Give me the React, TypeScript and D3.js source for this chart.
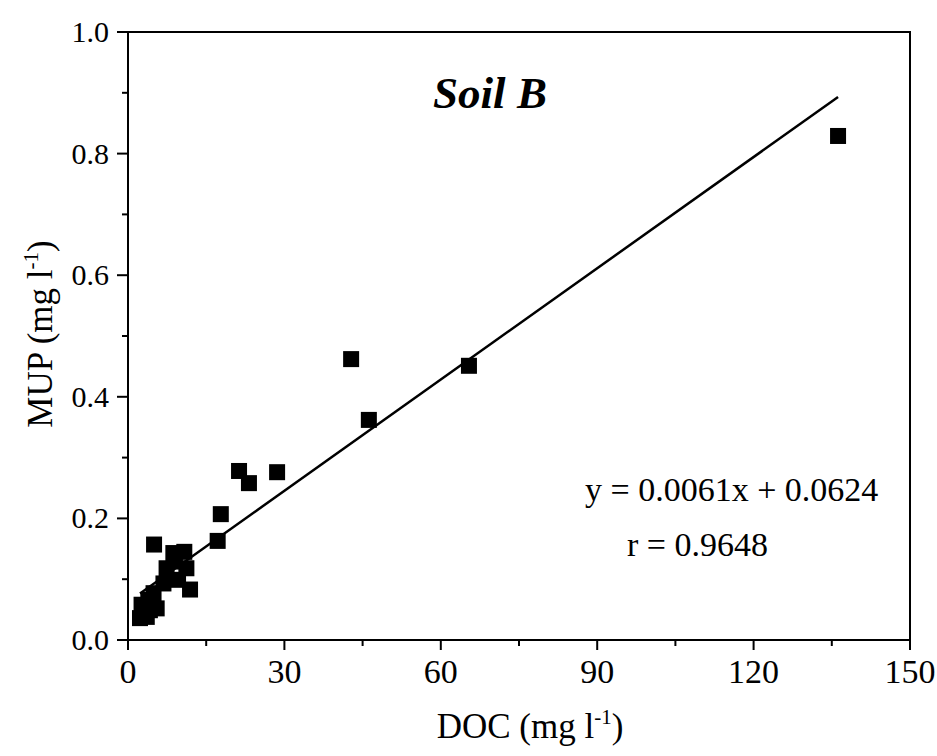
import React from "react";
import * as d3 from "d3";

const docValues = [136.2, 42.8, 46.2, 65.4, 28.6, 23.2, 21.3, 17.8, 17.2, 5.0, 8.7, 10.8, 11.2, 7.4, 11.9, 6.8, 9.6, 4.9, 3.9, 5.5, 2.6, 2.3, 3.6, 4.2, 9.0];
const mupValues = [0.829, 0.462, 0.362, 0.451, 0.276, 0.258, 0.278, 0.207, 0.163, 0.157, 0.143, 0.145, 0.118, 0.118, 0.083, 0.093, 0.099, 0.077, 0.066, 0.052, 0.058, 0.036, 0.038, 0.049, 0.129];
const xTicks = [0, 30, 60, 90, 120, 150];
const yTicks = [0.0, 0.2, 0.4, 0.6, 0.8, 1.0];
const slope = 0.0061;
const intercept = 0.0624;
const titleText = "Soil B";
const eqText = "y = 0.0061x + 0.0624";
const rText = "r = 0.9648";

const W = 937, H = 756;
const L = 128, R = 910, T = 32, B = 640;
const FONT = "'Liberation Serif', 'Times New Roman', serif";

export default function App() {
  const x = d3.scaleLinear().domain([0, 150]).range([L, R]);
  const y = d3.scaleLinear().domain([0, 1]).range([B, T]);
  const xMinor = d3.range(15, 150, 30);
  const yMinor = d3.range(0.1, 1.0, 0.2);
  const xMin = d3.min(docValues)!;
  const xMax = d3.max(docValues)!;
  const line = d3.line<number>().x((d) => x(d)).y((d) => y(slope * d + intercept));
  const ms = 16;
  return (
    <svg width={W} height={H} style={{ position: "absolute", left: 0, top: 0, background: "#fff" }} fontFamily={FONT}>
      {/* frame */}
      <rect x={L} y={T} width={R - L} height={B - T} fill="none" stroke="#000" strokeWidth={2} />
      {/* x ticks */}
      {xTicks.map((t) => (
        <g key={"xt" + t}>
          <line x1={x(t)} x2={x(t)} y1={B} y2={B + 10} stroke="#000" strokeWidth={2} />
          <text x={x(t)} y={B + 43} fontSize={34} textAnchor="middle">{t}</text>
        </g>
      ))}
      {xMinor.map((t) => (
        <line key={"xm" + t} x1={x(t)} x2={x(t)} y1={B} y2={B + 6} stroke="#000" strokeWidth={2} />
      ))}
      {yTicks.map((t) => (
        <g key={"yt" + t}>
          <line x1={L - 11} x2={L} y1={y(t)} y2={y(t)} stroke="#000" strokeWidth={2} />
          <text x={L - 19} y={y(t) + 10} fontSize={30} textAnchor="end">{t.toFixed(1)}</text>
        </g>
      ))}
      {yMinor.map((t) => (
        <line key={"ym" + t} x1={L - 6} x2={L} y1={y(t)} y2={y(t)} stroke="#000" strokeWidth={2} />
      ))}
      {/* regression line */}
      <path d={line([xMin, xMax]) || ""} fill="none" stroke="#000" strokeWidth={2.5} />
      {/* points */}
      {docValues.map((d, i) => (
        <rect key={"p" + i} x={x(d) - ms / 2} y={y(mupValues[i]) - ms / 2} width={ms} height={ms} fill="#000" />
      ))}
      {/* title */}
      <text x={490} y={108} fontSize={45} fontWeight="bold" fontStyle="italic" textAnchor="middle">{titleText}</text>
      {/* equation */}
      <text x={585} y={501} fontSize={34}>{eqText}</text>
      <text x={627} y={556} fontSize={34}>{rText}</text>
      {/* x axis title */}
      <text x={530} y={738} fontSize={35} textAnchor="middle">
        DOC (mg l<tspan fontSize={21} dy={-14}>-1</tspan><tspan dy={14}>)</tspan>
      </text>
      {/* y axis title */}
      <text transform={`translate(52, ${(T + B) / 2 - 2}) rotate(-90)`} fontSize={35} textAnchor="middle">
        MUP (mg l<tspan fontSize={21} dy={-14}>-1</tspan><tspan dy={14}>)</tspan>
      </text>
    </svg>
  );
}
